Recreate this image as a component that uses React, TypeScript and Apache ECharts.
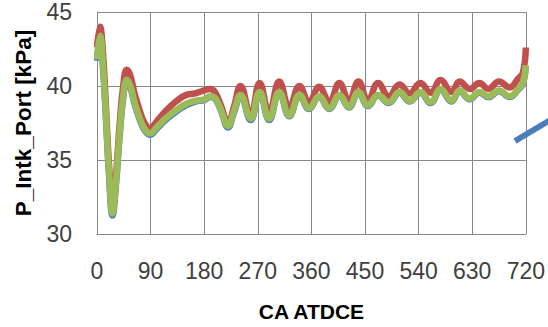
import React, { useEffect, useRef } from "react";
import * as echarts from "echarts";

const angles = [0, 5, 10, 15, 20, 26, 32, 38, 44, 50, 56, 63, 72, 80, 89, 100, 115, 134, 150, 165, 180, 190, 198, 208, 220, 230, 241, 258, 273, 289, 306, 323, 340, 356, 373, 390, 407, 423, 439, 455, 472, 490, 508, 525, 543, 560, 577, 595, 609, 626, 642, 657, 675, 693, 707, 715, 720];

const blueValues = [41.7, 43.3, 41.3, 37.8, 34.1, 31.25, 33.4, 36.6, 39.2, 40.3, 39.9, 38.8, 37.7, 37.0, 36.7, 37.1, 37.7, 38.3, 38.7, 38.95, 39.05, 39.25, 39.15, 38.35, 37.2, 38.2, 39.35, 37.7, 39.55, 37.7, 39.55, 37.95, 39.35, 38.45, 39.25, 38.45, 39.35, 38.55, 39.55, 38.65, 39.35, 38.85, 39.55, 38.95, 39.55, 38.85, 39.75, 38.95, 39.65, 39.1, 39.55, 39.25, 39.65, 39.25, 39.75, 40.15, 41.3];

const redValues = [42.6, 44.0, 42.3, 38.6, 34.8, 31.6, 34.0, 37.4, 40.0, 41.1, 40.7, 39.5, 38.3, 37.5, 37.1, 37.6, 38.3, 39.0, 39.4, 39.5, 39.7, 39.8, 39.6, 38.7, 37.5, 38.6, 40.0, 38.0, 40.2, 38.2, 40.3, 38.55, 40.0, 38.9, 39.95, 38.9, 40.2, 39.0, 40.3, 39.0, 40.2, 39.3, 40.1, 39.5, 40.2, 39.55, 40.4, 39.6, 40.3, 39.8, 40.2, 39.8, 40.3, 39.9, 40.5, 40.9, 42.6];

const greenValues = [41.8, 43.4, 41.5, 38.0, 34.3, 31.4, 33.6, 36.8, 39.3, 40.4, 40.0, 38.9, 37.8, 37.1, 36.8, 37.2, 37.8, 38.4, 38.8, 39.0, 39.1, 39.3, 39.2, 38.4, 37.3, 38.3, 39.4, 37.8, 39.6, 37.8, 39.6, 38.0, 39.4, 38.5, 39.3, 38.5, 39.4, 38.6, 39.6, 38.7, 39.4, 38.9, 39.6, 39.0, 39.6, 38.9, 39.8, 39.0, 39.7, 39.15, 39.6, 39.3, 39.7, 39.3, 39.8, 40.2, 41.4];

const xTicks = [0, 90, 180, 270, 360, 450, 540, 630, 720];
const yTicks = [30, 35, 40, 45];

const zip = (vals: number[]) => angles.map((a, i) => [a, vals[i]]);

export default function App() {
  const ref = useRef<HTMLDivElement>(null);
  useEffect(() => {
    if (!ref.current) return;
    const chart = echarts.init(ref.current, null, { renderer: "svg" });
    const font = "Liberation Sans";
    const lineStyle = (color: string) => ({ color, width: 6.5 });
    chart.setOption({
      animation: false,
      backgroundColor: "#ffffff",
      grid: { left: 97, right: 22, top: 12, bottom: 91, containLabel: false },
      xAxis: {
        type: "value",
        min: xTicks[0],
        max: xTicks[xTicks.length - 1],
        interval: 90,
        name: "CA ATDCE",
        nameLocation: "middle",
        nameGap: 67,
        nameTextStyle: { fontFamily: font, fontWeight: "bold", fontSize: 21, color: "#000000" },
        axisLine: { show: true, lineStyle: { color: "#878787", width: 1 } },
        axisTick: { show: false },
        axisLabel: { fontFamily: font, fontSize: 23, color: "#404040", margin: 25 },
        splitLine: { show: true, lineStyle: { color: "#878787", width: 1 } },
      },
      yAxis: {
        type: "value",
        min: yTicks[0],
        max: yTicks[yTicks.length - 1],
        interval: 5,
        name: "P_Intk_Port [kPa]",
        nameLocation: "middle",
        nameGap: 62,
        nameTextStyle: { fontFamily: font, fontWeight: "bold", fontSize: 22.5, color: "#000000" },
        axisLine: { show: true, lineStyle: { color: "#878787", width: 1 } },
        axisTick: { show: false },
        axisLabel: { fontFamily: font, fontSize: 23, color: "#404040", margin: 25 },
        splitLine: { show: true, lineStyle: { color: "#878787", width: 1 } },
      },
      series: [
        { type: "line", data: zip(blueValues), showSymbol: false, smooth: 0.45, lineStyle: lineStyle("#4F81BD"), z: 2 },
        { type: "line", data: zip(redValues), showSymbol: false, smooth: 0.45, lineStyle: lineStyle("#C0504D"), z: 3 },
        { type: "line", data: zip(greenValues), showSymbol: false, smooth: 0.45, lineStyle: lineStyle("#9BBB59"), z: 4 },
      ],
      graphic: [
        {
          type: "line",
          shape: { x1: 515, y1: 141, x2: 552, y2: 119 },
          style: { stroke: "#4A7EBB", lineWidth: 6 },
          z: 10,
        },
      ],
    });
    return () => chart.dispose();
  }, []);
  return <div ref={ref} style={{ position: "fixed", left: 0, top: 0, width: 548, height: 327 }} />;
}
